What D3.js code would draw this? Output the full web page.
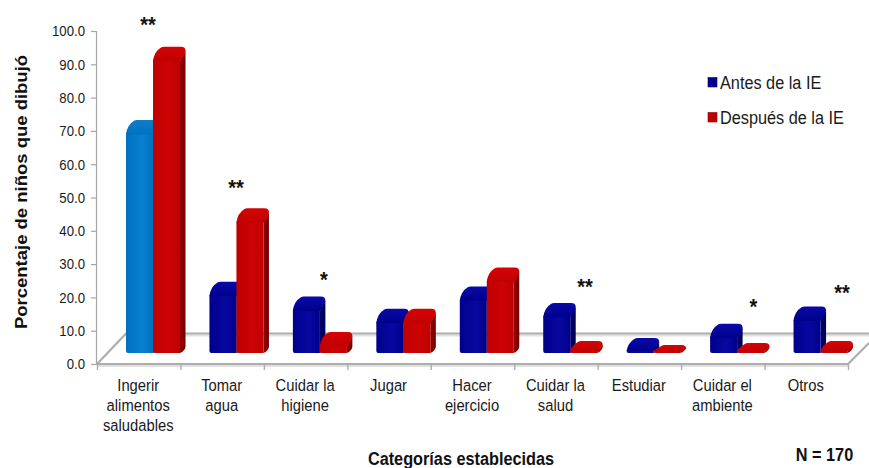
<!DOCTYPE html>
<html>
<head>
<meta charset="utf-8">
<script src="https://cdnjs.cloudflare.com/ajax/libs/d3/7.8.5/d3.min.js"></script>
<style>
  html, body { margin: 0; padding: 0; background: #fff; }
  svg { display: block; font-family: "Liberation Sans", Arial, sans-serif; }
</style>
</head>
<body>
<svg id="chart" width="869" height="468"></svg>
<script>
// Share of children per category, before and after the intervention
const categories = ["Ingerir\nalimentos\nsaludables", "Tomar\nagua", "Cuidar la\nhigiene", "Jugar", "Hacer\nejercicio", "Cuidar la\nsalud", "Estudiar", "Cuidar el\nambiente", "Otros"];
const antes = [70.0, 21.4, 17.0, 13.3, 20.0, 15.0, 4.5, 8.8, 14.0];
const despues = [92.0, 43.5, 6.3, 13.3, 25.7, 3.6, 2.4, 3.0, 3.6];
const significance = ["**", "**", "*", "", "", "**", "", "*", "**"];
const seriesNames = ["Antes de la IE", "Después de la IE"];
const yTicks = [0, 10, 20, 30, 40, 50, 60, 70, 80, 90, 100];

const svg = d3.select("#chart");
const y = d3.scaleLinear().domain([0, 100]).range([364, 31]);
const x = d3.scaleBand().domain(d3.range(categories.length)).range([97, 848]).paddingInner(0).paddingOuter(0);
const inner = d3.scaleBand().domain([0, 1]).range([29, 83]);

// All lettering is set condensed horizontally
const condense = 0.88;
const place = (px, py, extra = "") => `translate(${px},${py}) scale(${condense},1)${extra}`;

// 3-D projection of the plot floor and of the bars standing on it
const floorDx = 29, floorDy = 30.5;
const barBase = 353;
const baseOffset = y(0) - barBase;
const sideW = 5.5, sideDy = 6, frontDrop = 11, bevel = 9;

const palette = {
  blue: { front: "#00008c", mid: "#0808a0", side: "#00006e", sideDark: "#00004e", top: "#0a0aa8" },
  red: { front: "#c00000", mid: "#cc0303", side: "#9a0000", sideDark: "#6e0000", top: "#d60404" },
  sky: { front: "#0070c0", mid: "#0a80d0", side: "#00558f", sideDark: "#004070", top: "#0f7ec8" }
};

const defs = svg.append("defs");
Object.entries(palette).forEach(([name, c]) => {
  const g = defs.append("linearGradient").attr("id", "front-" + name);
  g.append("stop").attr("offset", "0%").attr("stop-color", c.front);
  g.append("stop").attr("offset", "60%").attr("stop-color", c.mid);
  g.append("stop").attr("offset", "100%").attr("stop-color", c.front);
  const t = defs.append("linearGradient").attr("id", "top-" + name).attr("x1", 0).attr("x2", 0).attr("y1", 0).attr("y2", 1);
  t.append("stop").attr("offset", "0%").attr("stop-color", c.top);
  t.append("stop").attr("offset", "100%").attr("stop-color", c.front);
  const s = defs.append("linearGradient").attr("id", "side-" + name);
  s.append("stop").attr("offset", "0%").attr("stop-color", c.side);
  s.append("stop").attr("offset", "100%").attr("stop-color", c.sideDark);
});

// Floor of the plot, each edge with a faint shadow underneath
const floorColor = "#adadad";
const floorBack = y(0) - floorDy;
const left = x.range()[0], right = x.range()[1];
const shadow = svg.append("g").attr("fill", "none").attr("stroke", "#e0e0e0").attr("stroke-width", 2);
shadow.append("path").attr("d", d3.line()([[left + floorDx, floorBack + 2], [869, floorBack + 2]]));
shadow.append("path").attr("d", d3.line()([[left, y(0) + 2], [right, y(0) + 2]]));
const floor = svg.append("g").attr("fill", "none").attr("stroke", floorColor).attr("stroke-width", 2.2);
floor.append("path").attr("d", d3.line()([[left, y(0)], [left + floorDx, floorBack], [869, floorBack]]));
floor.append("path").attr("d", d3.line()([[right, y(0)], [869, y(0) - 21]]));
floor.append("path").attr("d", d3.line()([[left, y(0)], [right, y(0)]]));

// Value axis
const yAxis = d3.axisLeft(y).tickValues(yTicks).tickFormat(d3.format(".1f")).tickSize(5);
const yG = svg.append("g").attr("transform", "translate(96,0)").call(yAxis);
yG.selectAll("path,line").attr("stroke", "#a6a6a6").attr("stroke-width", 1.2);
yG.selectAll("text").attr("font-size", 15).attr("fill", "#1a1a1a").attr("font-family", "Liberation Sans")
  .attr("x", 0).attr("transform", place(-11, 0));

// Category axis, with hand-broken labels
const xAxis = d3.axisBottom(d3.scaleLinear().domain([0, categories.length]).range(x.range()))
  .tickValues(d3.range(categories.length + 1)).tickSize(6).tickFormat("");
const xG = svg.append("g").attr("transform", `translate(0,${y(0)})`).call(xAxis);
xG.select("path").remove();
xG.selectAll("line").attr("stroke", floorColor).attr("stroke-width", 1.4);

const labels = svg.append("g").attr("text-anchor", "middle").attr("font-size", 16.8).attr("fill", "#1a1a1a");
categories.forEach((c, i) => {
  const t = labels.append("text").attr("transform", place(x(i) + x.bandwidth() / 2 - 0.5, 0));
  c.split("\n").forEach((line, j) => {
    t.append("tspan").attr("x", 0).attr("y", 391.5 + j * 20).text(line);
  });
});

function barParts(x0, w, v) {
  const top = y(v) - baseOffset;
  const frontTop = Math.min(top + frontDrop, barBase - 3);
  const r = Math.min(3.5, (barBase - frontTop) / 2);
  const right = x0 + w;

  const front = d3.path();
  front.moveTo(x0 + 2, barBase);
  front.quadraticCurveTo(x0, barBase, x0, barBase - 2);
  front.lineTo(x0, frontTop + r);
  front.quadraticCurveTo(x0, frontTop, x0 + r, frontTop);
  front.lineTo(right - r, frontTop);
  front.quadraticCurveTo(right, frontTop, right, frontTop + r);
  front.lineTo(right, barBase);
  front.closePath();

  // Top face reaches down over the front's upper corners so no seam shows
  const topFace = d3.path();
  topFace.moveTo(x0, frontTop + r);
  topFace.quadraticCurveTo(x0 + 1, top + 5, x0 + bevel - 1, top + 0.8);
  topFace.quadraticCurveTo(x0 + bevel, top, x0 + bevel + 2, top);
  topFace.lineTo(right + 1, top);
  topFace.quadraticCurveTo(right + sideW, top, right + sideW, top + 4);
  topFace.quadraticCurveTo(right + sideW - 1, frontTop - 1, right, frontTop + r);
  topFace.closePath();

  const sideTop = Math.min(top + 4, barBase - sideDy);
  const side = d3.path();
  side.moveTo(right, frontTop + r);
  side.lineTo(right + sideW, sideTop);
  side.lineTo(right + sideW, barBase - sideDy);
  side.quadraticCurveTo(right + sideW - 1, barBase - 2, right, barBase);
  side.closePath();

  return { front: front.toString(), top: topFace.toString(), side: side.toString(), frontTop, right };
}

// Bars: the "before" series first, so each "after" bar overlaps its neighbour
const series = [antes, despues];
series.forEach((values, s) => {
  const g = svg.append("g").attr("class", "series-" + s);
  values.forEach((v, i) => {
    const tone = s === 1 ? "red" : (i === 0 ? "sky" : "blue");
    const parts = barParts(x(i) + inner(s), inner.bandwidth(), v);
    const b = g.append("g");
    b.append("path").attr("d", parts.side).attr("fill", `url(#side-${tone})`);
    b.append("path").attr("d", parts.front).attr("fill", `url(#front-${tone})`);
    b.append("path").attr("d", parts.top).attr("fill", `url(#top-${tone})`);
  });
});

// Significance marks sit above the taller bar of each group
const starY = [32, 195, 287, 0, 0, 294, 0, 314, 300];
const starX = [148, 236, 324, 0, 0, 585, 0, 753.5, 842];
svg.append("g").attr("font-size", 22.7).attr("font-weight", "bold").attr("fill", "#111").attr("text-anchor", "middle")
  .selectAll("text").data(significance.map((t, i) => ({ t, i })).filter(d => d.t)).join("text")
  .attr("transform", d => place(starX[d.i], starY[d.i])).text(d => d.t);

// Legend
const legendY = d3.scalePoint().domain(seriesNames).range([77.5, 112.5]);
const legend = svg.append("g");
seriesNames.forEach((n, i) => {
  const tone = i === 0 ? "blue" : "red";
  legend.append("rect").attr("x", 708).attr("y", legendY(n)).attr("width", 9).attr("height", 9.5)
    .attr("fill", palette[tone].front).attr("stroke", palette[tone].side).attr("stroke-width", 0.6);
  legend.append("text").attr("transform", place(720, legendY(n) + 11)).attr("font-size", 18.5).attr("fill", "#1a1a1a").text(n);
});

// Titles
const bold = { "font-size": 18.5, "font-weight": "bold", "fill": "#111", "text-anchor": "middle" };
const title = (s, transform) => {
  const t = svg.append("text").attr("transform", transform).text(s);
  Object.entries(bold).forEach(([k, v]) => t.attr(k, v));
};
title("Porcentaje de niños que dibujó", place(26.5, 192, " rotate(-90)"));
title("Categorías establecidas", place(461, 465));
title("N = 170", place(824.5, 460.5));
</script>
</body>
</html>
